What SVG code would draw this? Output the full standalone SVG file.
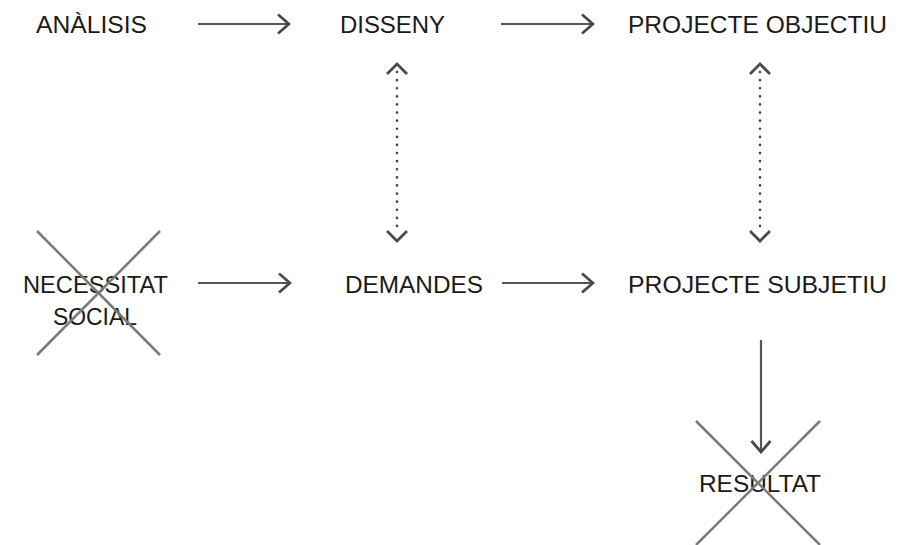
<svg xmlns="http://www.w3.org/2000/svg" width="921" height="545" viewBox="0 0 921 545">
<style>
.t{font-family:"Liberation Sans",Arial,sans-serif;font-size:24.5px;fill:#1a1a1a;}
.a{stroke:#555;stroke-width:2.2;fill:none;}
.h{stroke:#4a4a4a;stroke-width:2.8;fill:none;}
.d{stroke:#444;stroke-width:2.6;fill:none;stroke-dasharray:0.1 8;stroke-linecap:round;}
.x{stroke:#7a7a7a;stroke-width:2.5;fill:none;}
</style>
<defs>
<marker id="ah" viewBox="-13 -11 15 22" markerWidth="15" markerHeight="22" refX="0" refY="0" orient="auto" markerUnits="userSpaceOnUse">
<polyline points="-11,-9.5 0,0 -11,9.5" fill="none" stroke="#4a4a4a" stroke-width="2.8"/>
</marker>
</defs>
<rect width="921" height="545" fill="#fff"/>
<g id="analisis"><text class="t" x="36" y="33" textLength="111" lengthAdjust="spacingAndGlyphs">ANÀLISIS</text></g>
<g id="disseny"><text class="t" x="340" y="33" textLength="105" lengthAdjust="spacingAndGlyphs">DISSENY</text></g>
<g id="projecte-objectiu"><text class="t" x="628" y="33" textLength="259" lengthAdjust="spacingAndGlyphs">PROJECTE OBJECTIU</text></g>
<g id="necessitat-social">
<text class="t" x="23" y="293" textLength="145" lengthAdjust="spacingAndGlyphs">NECESSITAT</text>
<text class="t" x="53" y="325" textLength="84" lengthAdjust="spacingAndGlyphs">SOCIAL</text>
<line class="x" x1="37" y1="231" x2="160" y2="355"/>
<line class="x" x1="160" y1="231" x2="37" y2="355"/>
</g>
<g id="demandes"><text class="t" x="345" y="293" textLength="138" lengthAdjust="spacingAndGlyphs">DEMANDES</text></g>
<g id="projecte-subjetiu"><text class="t" x="628" y="293" textLength="259" lengthAdjust="spacingAndGlyphs">PROJECTE SUBJETIU</text></g>
<g id="resultat">
<text class="t" x="699" y="492" textLength="122" lengthAdjust="spacingAndGlyphs">RESULTAT</text>
<line class="x" x1="696" y1="421" x2="820" y2="545"/>
<line class="x" x1="820" y1="421" x2="696" y2="545"/>
</g>
<g id="connectors">
<line class="a" x1="198" y1="24" x2="289" y2="24" marker-end="url(#ah)"/>
<line class="a" x1="501" y1="24" x2="593" y2="24" marker-end="url(#ah)"/>
<line class="a" x1="198" y1="283" x2="290" y2="283" marker-end="url(#ah)"/>
<line class="a" x1="502" y1="283" x2="593" y2="283" marker-end="url(#ah)"/>
<line class="a" x1="761" y1="340" x2="761" y2="452" marker-end="url(#ah)"/>
<line class="d" x1="397" y1="72" x2="397" y2="234"/>
<polyline class="h" points="387,74 397,64 407,74"/>
<polyline class="h" points="387,231 397,241 407,231"/>
<line class="d" x1="760" y1="72" x2="760" y2="234"/>
<polyline class="h" points="750,74 760,64 770,74"/>
<polyline class="h" points="750,231 760,241 770,231"/>
</g>
</svg>
